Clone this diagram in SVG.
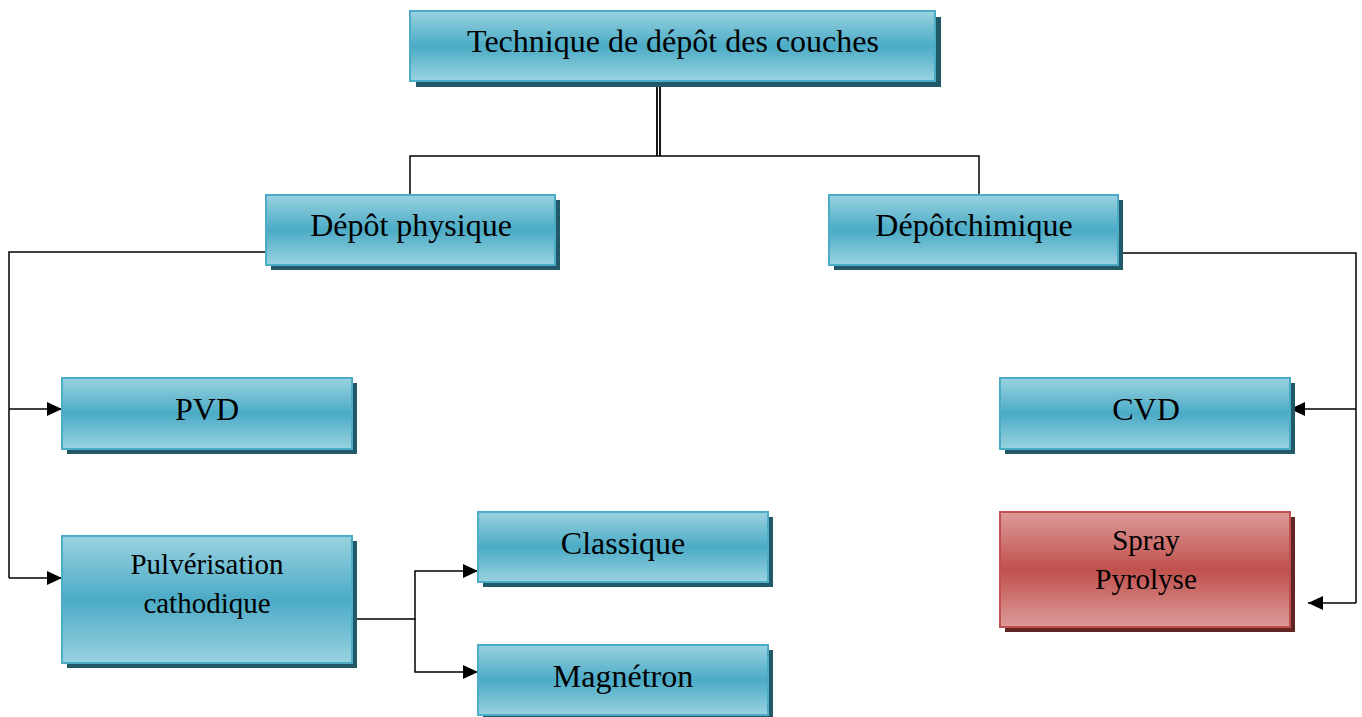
<svg xmlns="http://www.w3.org/2000/svg" width="1362" height="717" viewBox="0 0 1362 717">
<defs>
<linearGradient id="gb" x1="0" y1="0" x2="0" y2="1">
<stop offset="0" stop-color="#9ad2e0"/>
<stop offset="0.5" stop-color="#4babc6"/>
<stop offset="1" stop-color="#9ad2e0"/>
</linearGradient>
<linearGradient id="gr" x1="0" y1="0" x2="0" y2="1">
<stop offset="0" stop-color="#dc9b9a"/>
<stop offset="0.5" stop-color="#c0504d"/>
<stop offset="1" stop-color="#dc9b9a"/>
</linearGradient>
<marker id="ah" viewBox="0 0 15 14" refX="15" refY="7" markerWidth="15" markerHeight="14" markerUnits="userSpaceOnUse" orient="auto">
<path d="M0,0 L15,7 L0,14 Z" fill="#000"/>
</marker>
</defs>
<style>
.box{fill:url(#gb);stroke:#4bacc6;stroke-width:2}
.sh{fill:#215968}
.rbox{fill:url(#gr);stroke:#c0504d;stroke-width:2}
.rsh{fill:#632523}
.t{font-family:"Liberation Serif","Times New Roman",serif;fill:#000;text-anchor:middle}
.l{font-size:32px}
.s{font-size:29px}
.c{fill:none;stroke:#000;stroke-width:1.5}
</style>
<rect width="1362" height="717" fill="#fff"/>
<g id="connectors">
<path class="c" d="M657,81 V156 M660,81 V156" style="stroke-width:1.8"/>
<path class="c" d="M410,195 V156 H979 V195"/>
<path class="c" d="M266,252 H9 V578"/>
<path class="c" d="M9,409 H62" marker-end="url(#ah)"/>
<path class="c" d="M9,578 H62" marker-end="url(#ah)"/>
<path class="c" d="M352,619 H415 V571 H478" marker-end="url(#ah)"/>
<path class="c" d="M415,619 V672 H478" marker-end="url(#ah)"/>
<path class="c" d="M1118,253 H1356 V603"/>
<path class="c" d="M1356,409 H1290" marker-end="url(#ah)"/>
<path class="c" d="M1356,603 H1308" marker-end="url(#ah)"/>
</g>
<g id="n-technique">
<rect class="sh" x="416" y="17" width="525" height="70"/>
<rect class="box" x="410" y="11" width="525" height="70"/>
<text class="t l" x="673" y="52">Technique de dépôt des couches</text>
</g>
<g id="n-physique">
<rect class="sh" x="271" y="200" width="289" height="70"/>
<rect class="box" x="266" y="195" width="289" height="70"/>
<text class="t l" x="411" y="236">Dépôt physique</text>
</g>
<g id="n-chimique">
<rect class="sh" x="834" y="200" width="289" height="70"/>
<rect class="box" x="829" y="195" width="289" height="70"/>
<text class="t l" x="974" y="236">Dépôtchimique</text>
</g>
<g id="n-pvd">
<rect class="sh" x="67" y="383" width="290" height="71"/>
<rect class="box" x="62" y="378" width="290" height="71"/>
<text class="t l" x="207" y="420">PVD</text>
</g>
<g id="n-pulverisation">
<rect class="sh" x="67" y="541" width="290" height="127"/>
<rect class="box" x="62" y="536" width="290" height="127"/>
<text class="t s" x="207" y="574">Pulvérisation</text>
<text class="t s" x="207" y="613">cathodique</text>
</g>
<g id="n-classique">
<rect class="sh" x="483" y="517" width="290" height="70"/>
<rect class="box" x="478" y="512" width="290" height="70"/>
<text class="t l" x="623" y="554">Classique</text>
</g>
<g id="n-magnetron">
<rect class="sh" x="483" y="650" width="290" height="70"/>
<rect class="box" x="478" y="645" width="290" height="70"/>
<text class="t l" x="623" y="687">Magnétron</text>
</g>
<g id="n-cvd">
<rect class="sh" x="1005" y="383" width="290" height="71"/>
<rect class="box" x="1000" y="378" width="290" height="71"/>
<text class="t l" x="1146" y="420">CVD</text>
</g>
<g id="n-spray">
<rect class="rsh" x="1005" y="517" width="290" height="115"/>
<rect class="rbox" x="1000" y="512" width="290" height="115"/>
<text class="t s" x="1146" y="550">Spray</text>
<text class="t s" x="1146" y="589">Pyrolyse</text>
</g>
</svg>
